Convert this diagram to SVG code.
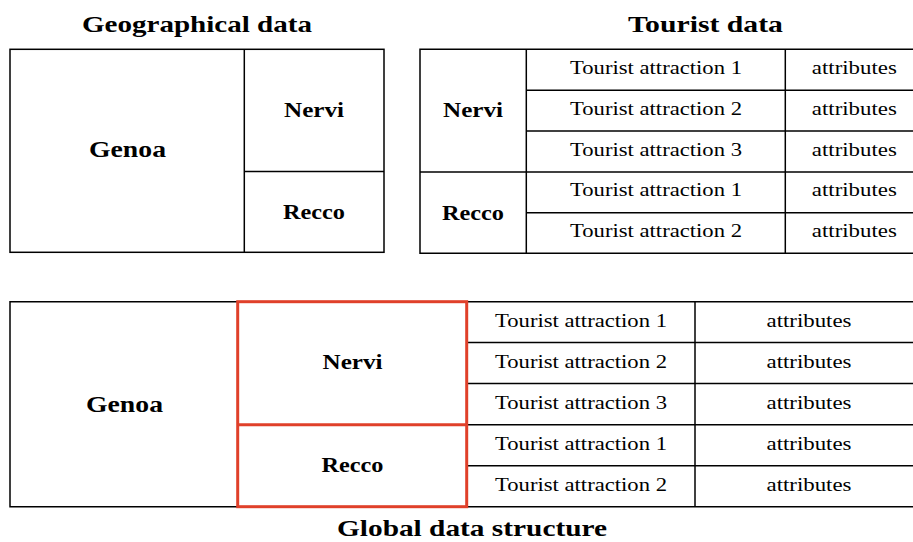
<svg xmlns="http://www.w3.org/2000/svg" width="913" height="542" viewBox="0 0 913 542">
  <style>
    .ln { stroke: #000; stroke-width: 1.5; fill: none; }
    .red { stroke: #e0402a; stroke-width: 3; fill: none; }
    text { font-family: 'Liberation Serif', 'Times New Roman', Tinos, 'DejaVu Serif', 'Noto Serif', serif; fill: #000; text-anchor: middle; }
    .title { font-weight: bold; font-size: 24px; }
    .big { font-weight: bold; font-size: 23px; }
    .lbl { font-weight: bold; font-size: 20px; }
    .cell { font-size: 18px; }
  </style>
  <rect width="913" height="542" fill="#fff"/>

  <!-- Titles -->
  <text class="title" x="197" y="32" textLength="230" lengthAdjust="spacingAndGlyphs">Geographical data</text>
  <text class="title" x="705.5" y="32" textLength="155" lengthAdjust="spacingAndGlyphs">Tourist data</text>
  <text class="title" x="472" y="536" font-size="23" textLength="270" lengthAdjust="spacingAndGlyphs">Global data structure</text>

  <!-- Geographical data -->
  <g id="geo">
    <rect class="ln" x="10" y="49.3" width="374" height="203"/>
    <line class="ln" x1="244.3" y1="49.3" x2="244.3" y2="252.3"/>
    <line class="ln" x1="244.3" y1="171.5" x2="384" y2="171.5"/>
    <text class="big" x="127.5" y="156.7" textLength="77" lengthAdjust="spacingAndGlyphs">Genoa</text>
    <text class="lbl" x="314" y="116.7" textLength="60" lengthAdjust="spacingAndGlyphs">Nervi</text>
    <text class="lbl" x="314" y="219" textLength="62" lengthAdjust="spacingAndGlyphs">Recco</text>
  </g>

  <!-- Tourist data -->
  <g id="tourist">
    <path class="ln" d="M913 49.3 H420 V253.3 H913"/>
    <line class="ln" x1="526.3" y1="49.3" x2="526.3" y2="253.3"/>
    <line class="ln" x1="785.3" y1="49.3" x2="785.3" y2="253.3"/>
    <line class="ln" x1="526.3" y1="90.3" x2="913" y2="90.3"/>
    <line class="ln" x1="526.3" y1="131" x2="913" y2="131"/>
    <line class="ln" x1="420" y1="172" x2="913" y2="172"/>
    <line class="ln" x1="526.3" y1="212.7" x2="913" y2="212.7"/>
    <text class="lbl" x="473" y="117" textLength="60" lengthAdjust="spacingAndGlyphs">Nervi</text>
    <text class="lbl" x="473" y="220" textLength="62" lengthAdjust="spacingAndGlyphs">Recco</text>
    <g>
      <text class="cell" x="656" y="74" textLength="172" lengthAdjust="spacingAndGlyphs">Tourist attraction 1</text>
      <text class="cell" x="656" y="114.8" textLength="172" lengthAdjust="spacingAndGlyphs">Tourist attraction 2</text>
      <text class="cell" x="656" y="155.6" textLength="172" lengthAdjust="spacingAndGlyphs">Tourist attraction 3</text>
      <text class="cell" x="656" y="196.4" textLength="172" lengthAdjust="spacingAndGlyphs">Tourist attraction 1</text>
      <text class="cell" x="656" y="237.2" textLength="172" lengthAdjust="spacingAndGlyphs">Tourist attraction 2</text>
      <text class="cell" x="854.3" y="74" textLength="85" lengthAdjust="spacingAndGlyphs">attributes</text>
      <text class="cell" x="854.3" y="114.8" textLength="85" lengthAdjust="spacingAndGlyphs">attributes</text>
      <text class="cell" x="854.3" y="155.6" textLength="85" lengthAdjust="spacingAndGlyphs">attributes</text>
      <text class="cell" x="854.3" y="196.4" textLength="85" lengthAdjust="spacingAndGlyphs">attributes</text>
      <text class="cell" x="854.3" y="237.2" textLength="85" lengthAdjust="spacingAndGlyphs">attributes</text>
    </g>
  </g>

  <!-- Global data structure -->
  <g id="global">
    <path class="ln" d="M913 301.7 H10 V506.7 H913"/>
    <line class="ln" x1="695" y1="301.7" x2="695" y2="506.7"/>
    <line class="ln" x1="466.7" y1="342.5" x2="913" y2="342.5"/>
    <line class="ln" x1="466.7" y1="383.5" x2="913" y2="383.5"/>
    <line class="ln" x1="466.7" y1="424.7" x2="913" y2="424.7"/>
    <line class="ln" x1="466.7" y1="465.7" x2="913" y2="465.7"/>
    <text class="big" x="124.5" y="411.5" textLength="77" lengthAdjust="spacingAndGlyphs">Genoa</text>
    <g id="highlight">
      <rect class="red" x="237.7" y="301.7" width="229" height="205"/>
      <line class="red" x1="237.7" y1="424.7" x2="466.7" y2="424.7"/>
    </g>
    <text class="lbl" x="352.5" y="369" textLength="60" lengthAdjust="spacingAndGlyphs">Nervi</text>
    <text class="lbl" x="352.5" y="472" textLength="62" lengthAdjust="spacingAndGlyphs">Recco</text>
    <g>
      <text class="cell" x="581" y="327" textLength="172" lengthAdjust="spacingAndGlyphs">Tourist attraction 1</text>
      <text class="cell" x="581" y="367.8" textLength="172" lengthAdjust="spacingAndGlyphs">Tourist attraction 2</text>
      <text class="cell" x="581" y="408.8" textLength="172" lengthAdjust="spacingAndGlyphs">Tourist attraction 3</text>
      <text class="cell" x="581" y="450" textLength="172" lengthAdjust="spacingAndGlyphs">Tourist attraction 1</text>
      <text class="cell" x="581" y="491" textLength="172" lengthAdjust="spacingAndGlyphs">Tourist attraction 2</text>
      <text class="cell" x="809" y="327" textLength="85" lengthAdjust="spacingAndGlyphs">attributes</text>
      <text class="cell" x="809" y="367.8" textLength="85" lengthAdjust="spacingAndGlyphs">attributes</text>
      <text class="cell" x="809" y="408.8" textLength="85" lengthAdjust="spacingAndGlyphs">attributes</text>
      <text class="cell" x="809" y="450" textLength="85" lengthAdjust="spacingAndGlyphs">attributes</text>
      <text class="cell" x="809" y="491" textLength="85" lengthAdjust="spacingAndGlyphs">attributes</text>
    </g>
  </g>
</svg>
